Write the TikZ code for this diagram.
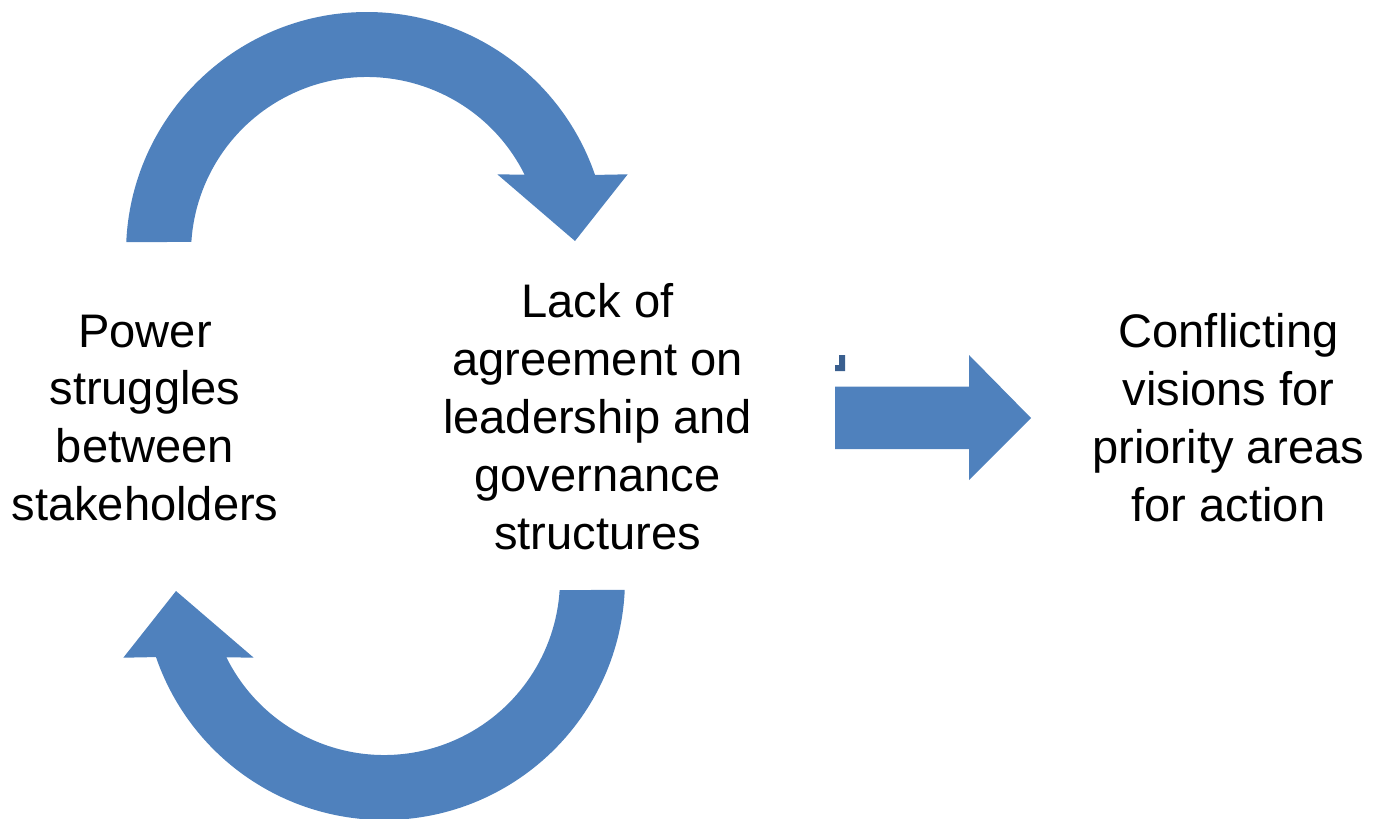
\documentclass[tikz,border=0pt]{standalone}
\usepackage{fontspec}
\setmainfont{Liberation Sans}
\definecolor{sipka}{HTML}{4F81BD}
\definecolor{tmava}{HTML}{3A5F8F}
\tikzset{popis/.style={align=center,inner sep=0pt,font=\fontsize{26.8}{33}\selectfont}}
\begin{document}
\begin{tikzpicture}[x=0.02cm,y=-0.02cm]
\useasboundingbox (0,0) rectangle (1375,818);
% Dva oblouky cyklu (dolni je otoceny o 180 stupnu)
\foreach \r in {0,180}
    \fill[sipka,rotate around={\r:(375.5,416)}] ([shift={(367,253)}]182.6:241)
        arc[start angle=182.6,end angle=341.1,radius=241]
        -- (627.7,174.3) -- (575,241) -- (497.3,174.3)
        -- ([shift={(367,253)}]333.6:176)
        arc[start angle=333.6,end angle=183.6,radius=176] -- cycle;
% Sipka doprava
\fill[sipka] (835,386.7) -- (969,386.7) -- (969,355) -- (1031,418)
    -- (969,480) -- (969,449) -- (835,449) -- cycle;
\fill[tmava] (839,355) -- (845,355) -- (845,371) -- (835,371) -- (835,365) -- (839,365) -- cycle;
% Texty
\node[popis] (moc) at (145,418) {Power\\struggles\\between\\stakeholders};
\node[popis] (shoda) at (597.5,417) {Lack of\\agreement on\\leadership and\\governance\\structures};
\node[popis] (vize) at (1228.5,417.5) {Conflicting\\visions for\\priority areas\\for action};
\end{tikzpicture}
\end{document}
